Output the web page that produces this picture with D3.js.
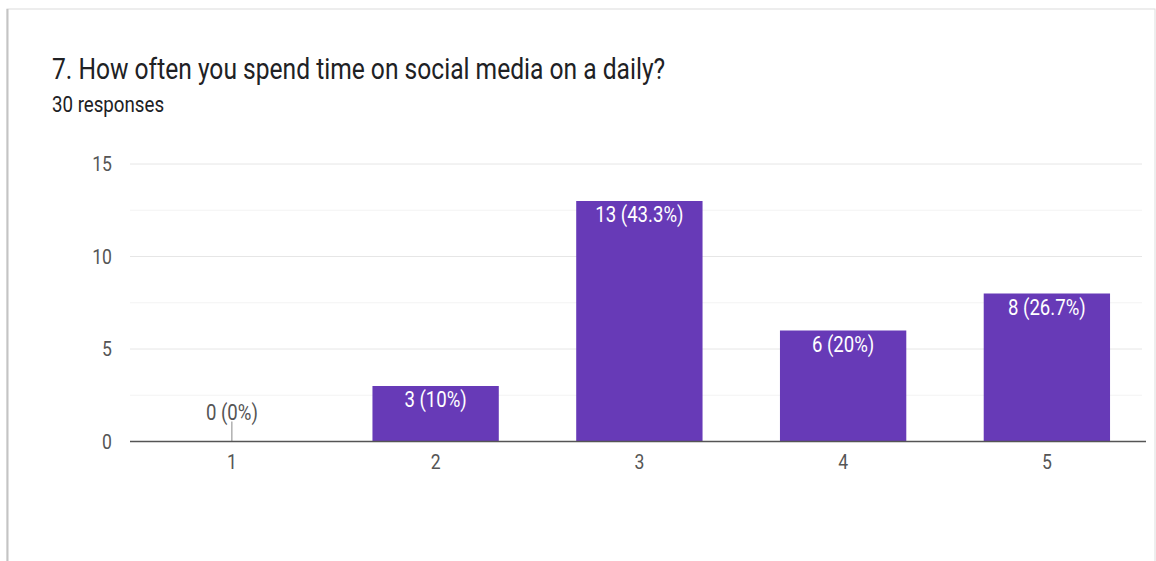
<!DOCTYPE html>
<html>
<head>
<meta charset="utf-8">
<script src="https://cdn.jsdelivr.net/npm/d3@7"></script>
<style>
  html, body { margin: 0; padding: 0; background: #fff; }
  svg { display: block; font-family: Roboto, Arial, sans-serif; }
</style>
</head>
<body>
<svg id="chart" width="1156" height="561"></svg>
<script>
// Survey answers: rating scale 1–5 and the number of respondents per rating
const categories = ["1", "2", "3", "4", "5"];
const counts = [0, 3, 13, 6, 8];
const totalResponses = 30;
const yTicks = [0, 5, 10, 15];
const titleText = "7. How often you spend time on social media on a daily?";
const subtitleText = "30 responses";

const svg = d3.select("#chart");
const W = 1156, H = 561;
const SY = 1.17; // text is drawn slightly taller than wide

// place a text element at (x, y) with a vertical stretch
function placeText(sel, fx, fy) {
  sel.attr("x", 0).attr("y", 0)
    .attr("transform", (d, i) => `translate(${fx(d, i)},${fy(d, i)}) scale(1,${SY})`);
}

// card outline
svg.append("rect").attr("x", 7).attr("y", 9).attr("width", W - 8).attr("height", H - 8)
  .attr("fill", "#fff").attr("stroke", "#dcdcdc").attr("stroke-width", 1);
svg.append("line").attr("x1", 7.5).attr("x2", 7.5).attr("y1", 9).attr("y2", H)
  .attr("stroke", "#c4c4c4").attr("stroke-width", 2);

svg.append("text").datum(0).attr("font-size", 24.6).attr("fill", "#202124")
  .text(titleText).call(placeText, () => 52, () => 79);
svg.append("text").datum(0).attr("font-size", 18.7).attr("fill", "#202124")
  .text(subtitleText).call(placeText, () => 52, () => 112);

const plot = { left: 130, gridRight: 1142, axisRight: 1146, top: 164, bottom: 441.5 };

const x = d3.scaleBand().domain(categories)
  .range([plot.left, 1148.75]).paddingInner(0.38).paddingOuter(0.19);
const y = d3.scaleLinear().domain([0, 15]).range([plot.bottom, plot.top]);

// minor gridlines every 2.5
const minor = d3.range(2.5, 15, 5);
svg.append("g").selectAll("line").data(minor).join("line")
  .attr("x1", plot.left).attr("x2", plot.gridRight)
  .attr("y1", d => y(d)).attr("y2", d => y(d))
  .attr("stroke", "#f3f3f3").attr("stroke-width", 1);

// major gridlines
svg.append("g").selectAll("line").data(yTicks.filter(d => d > 0)).join("line")
  .attr("x1", plot.left).attr("x2", plot.gridRight)
  .attr("y1", d => y(d)).attr("y2", d => y(d))
  .attr("stroke", "#e6e6e6").attr("stroke-width", 1);

// y tick labels
svg.append("g").selectAll("text").data(yTicks).join("text")
  .attr("text-anchor", "end").attr("font-size", 17.6).attr("fill", "#555")
  .text(d => d)
  .call(placeText, () => 112, d => y(d) + 7);

// bars
svg.append("g").selectAll("rect").data(counts).join("rect")
  .attr("x", (d, i) => x(categories[i]))
  .attr("y", d => y(d))
  .attr("width", x.bandwidth())
  .attr("height", d => y(0) - y(d))
  .attr("fill", "#673ab7");

// zero-value marker
const zeroIdx = counts.map((d, i) => d === 0 ? i : -1).filter(i => i >= 0);
svg.append("g").selectAll("line").data(zeroIdx).join("line")
  .attr("x1", i => x(categories[i]) + x.bandwidth() / 2)
  .attr("x2", i => x(categories[i]) + x.bandwidth() / 2)
  .attr("y1", y(0) - 20).attr("y2", y(0))
  .attr("stroke", "#888").attr("stroke-width", 1);

// value labels
const label = d => `${d} (${+(d / totalResponses * 100).toFixed(1)}%)`;
svg.append("g").selectAll("text").data(counts).join("text")
  .attr("text-anchor", "middle")
  .attr("font-size", 18.6)
  .attr("fill", d => d === 0 ? "#555" : "#fff")
  .text(label)
  .call(placeText,
    (d, i) => x(categories[i]) + x.bandwidth() / 2,
    d => d === 0 ? y(0) - 22 : y(d) + 21);

// baseline
svg.append("line").attr("x1", plot.left).attr("x2", plot.axisRight)
  .attr("y1", y(0)).attr("y2", y(0))
  .attr("stroke", "#555").attr("stroke-width", 1.5);

// x category labels
svg.append("g").selectAll("text").data(categories).join("text")
  .attr("text-anchor", "middle").attr("font-size", 17.6).attr("fill", "#555")
  .text(d => d)
  .call(placeText, d => x(d) + x.bandwidth() / 2, () => 469);
</script>
</body>
</html>
